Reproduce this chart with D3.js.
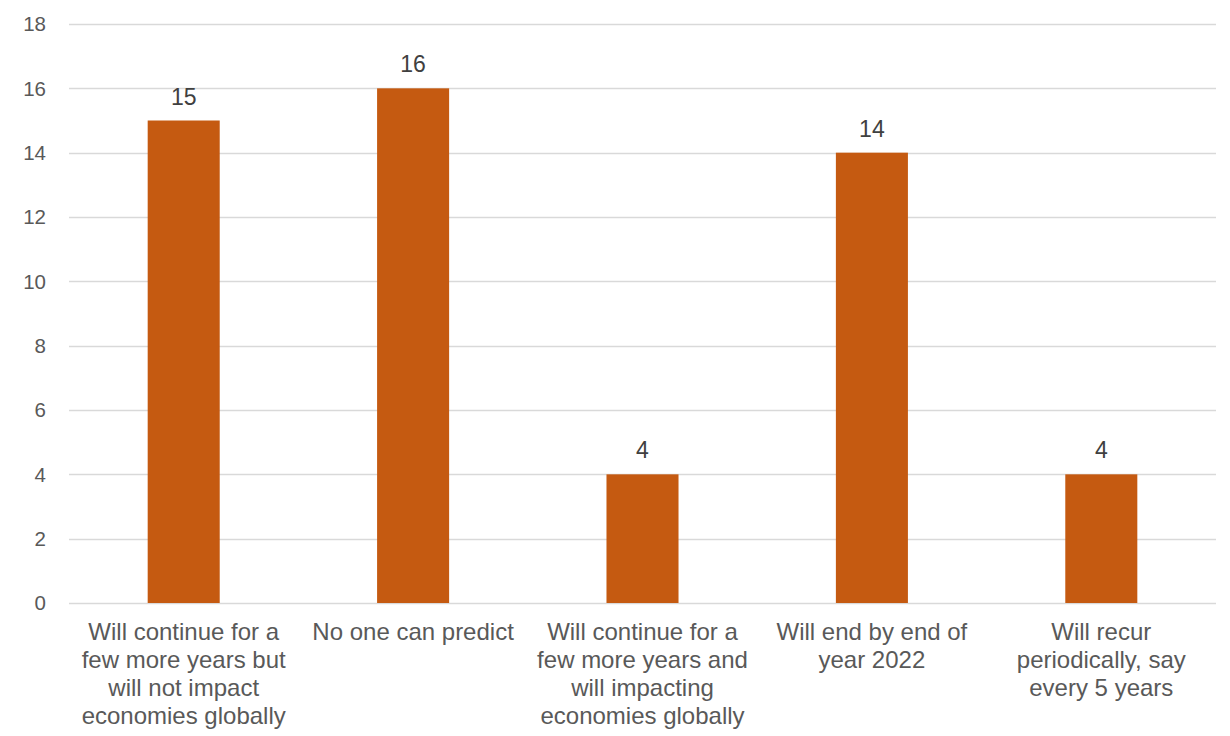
<!DOCTYPE html>
<html>
<head>
<meta charset="utf-8">
<script src="https://cdn.jsdelivr.net/npm/d3@7"></script>
<style>
  html, body { margin: 0; padding: 0; background: #fff; }
  svg { display: block; font-family: "Liberation Sans", Arial, sans-serif; }
</style>
</head>
<body>
<svg id="chart" width="1230" height="736"></svg>
<script>
const categories = [
  ["Will continue for a", "few more years but", "will not impact", "economies globally"],
  ["No one can predict"],
  ["Will continue for a", "few more years and", "will impacting", "economies globally"],
  ["Will end by end of", "year 2022"],
  ["Will recur", "periodically, say", "every 5 years"]
];
const values = [15, 16, 4, 14, 4];
const yTicks = [0, 2, 4, 6, 8, 10, 12, 14, 16, 18];

(function () {
const svg = d3.select("#chart");
const pLeft = 69, pRight = 1216, pTop = 24, pBottom = 603;

const x = d3.scaleBand()
  .domain(d3.range(categories.length))
  .range([pLeft, pRight])
  .paddingInner(0.686)
  .paddingOuter(0.343);

const y = d3.scaleLinear().domain([0, 18]).range([pBottom, pTop]);

// gridlines
svg.append("g").selectAll("line")
  .data(yTicks)
  .join("line")
  .attr("x1", pLeft).attr("x2", pRight)
  .attr("y1", d => Math.round(y(d)) + 0.5)
  .attr("y2", d => Math.round(y(d)) + 0.5)
  .attr("stroke", "#d9d9d9")
  .attr("stroke-width", 1.3);

// y tick labels
svg.append("g").selectAll("text")
  .data(yTicks)
  .join("text")
  .attr("x", 46)
  .attr("y", d => y(d))
  .attr("dy", "0.35em")
  .attr("text-anchor", "end")
  .attr("font-size", 20.5)
  .attr("fill", "#595959")
  .text(d => d);

// bars
svg.append("g").selectAll("rect")
  .data(values)
  .join("rect")
  .attr("x", (d, i) => x(i))
  .attr("width", x.bandwidth())
  .attr("y", d => y(d))
  .attr("height", d => y(0) - y(d))
  .attr("fill", "#c55a11");

// value labels
svg.append("g").selectAll("text")
  .data(values)
  .join("text")
  .attr("x", (d, i) => x(i) + x.bandwidth() / 2)
  .attr("y", d => y(d) - 16)
  .attr("text-anchor", "middle")
  .attr("font-size", 23)
  .attr("fill", "#404040")
  .text(d => d);

// category labels
const cat = svg.append("g").selectAll("text")
  .data(categories)
  .join("text")
  .attr("text-anchor", "middle")
  .attr("font-size", 24)
  .attr("fill", "#595959")
  .attr("x", (d, i) => x(i) + x.bandwidth() / 2)
  .attr("y", 640);
cat.selectAll("tspan")
  .data(d => d)
  .join("tspan")
  .attr("x", function() { return d3.select(this.parentNode).attr("x"); })
  .attr("dy", (d, i) => i === 0 ? 0 : 28)
  .text(d => d);
})();
</script>
</body>
</html>
